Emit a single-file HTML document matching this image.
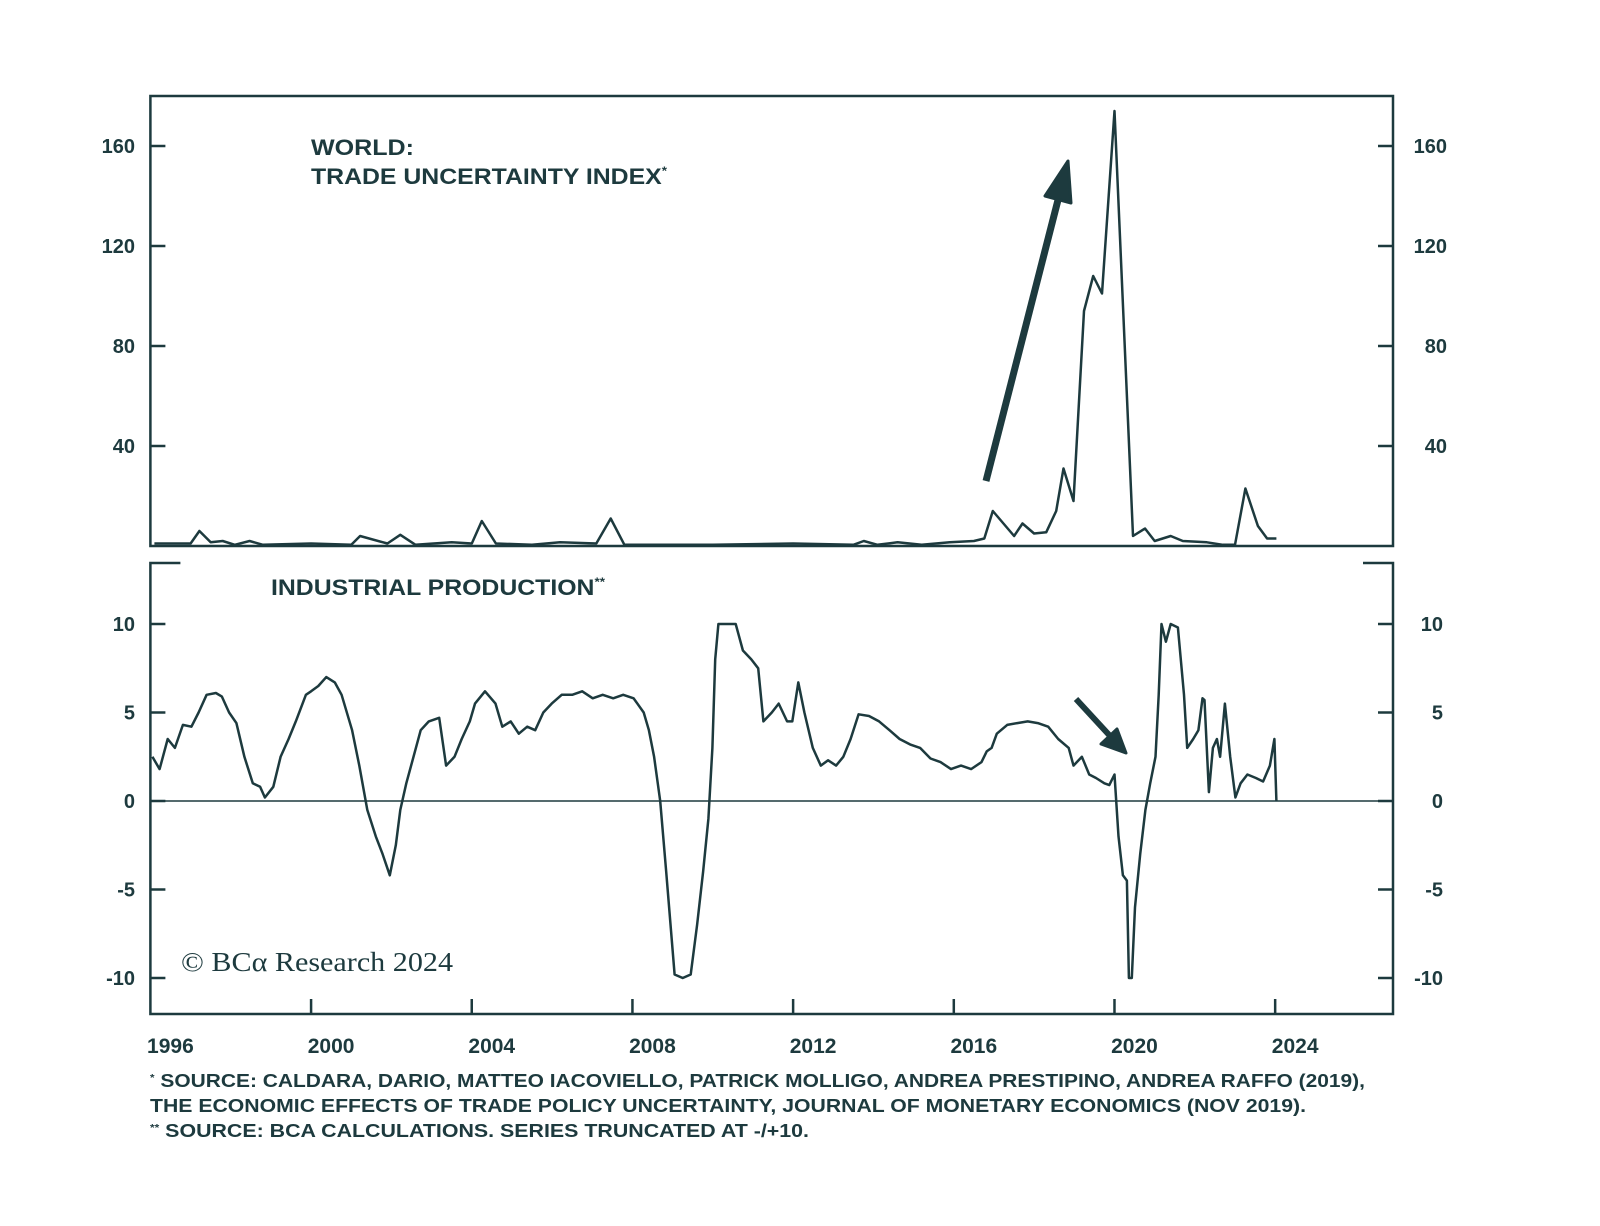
<!DOCTYPE html>
<html><head><meta charset="utf-8">
<style>
html,body{margin:0;padding:0;background:#fff;}
svg{display:block;}
text{font-family:"Liberation Sans",sans-serif;fill:#1d3a3e;font-weight:bold;}
</style></head>
<body>
<svg id="chart" width="1600" height="1226" viewBox="0 0 1600 1226" xmlns="http://www.w3.org/2000/svg">
<rect width="1600" height="1226" fill="#fff"/>
<g id="frame"></g>
<g id="axes"></g>
<g id="series"></g>
<text x="311" y="155" font-size="22" textLength="103" lengthAdjust="spacingAndGlyphs">WORLD:</text>
<text x="311" y="184" font-size="22" textLength="356" lengthAdjust="spacingAndGlyphs">TRADE UNCERTAINTY INDEX<tspan font-size="12" dy="-9">*</tspan></text>
<text x="271" y="595" font-size="22" textLength="334" lengthAdjust="spacingAndGlyphs">INDUSTRIAL PRODUCTION<tspan font-size="12" dy="-9">**</tspan></text>
<text x="181" y="971" font-size="27" style="font-family:'Liberation Serif',serif;font-weight:normal" textLength="272" lengthAdjust="spacingAndGlyphs">© BCα Research 2024</text>
<g>
<line x1="986" y1="481" x2="1058" y2="200" stroke="#1d3a3e" stroke-width="7"/>
<polygon points="1068,161 1045,196 1071,203" fill="#1d3a3e" stroke="#1d3a3e" stroke-width="3" stroke-linejoin="round"/>
</g>
<g>
<line x1="1076" y1="699" x2="1111" y2="737" stroke="#1d3a3e" stroke-width="6"/>
<polygon points="1126,753 1101,744 1117,729" fill="#1d3a3e" stroke="#1d3a3e" stroke-width="3" stroke-linejoin="round"/>
</g>
<text x="150" y="1087" font-size="18" textLength="1215" lengthAdjust="spacingAndGlyphs"><tspan font-size="10" dy="-6">*</tspan><tspan dy="6"> SOURCE: CALDARA, DARIO, MATTEO IACOVIELLO, PATRICK MOLLIGO, ANDREA PRESTIPINO, ANDREA RAFFO (2019),</tspan></text>
<text x="150" y="1112" font-size="18" textLength="1156" lengthAdjust="spacingAndGlyphs">THE ECONOMIC EFFECTS OF TRADE POLICY UNCERTAINTY, JOURNAL OF MONETARY ECONOMICS (NOV 2019).</text>
<text x="150" y="1137" font-size="18" textLength="659" lengthAdjust="spacingAndGlyphs"><tspan font-size="10" dy="-6">**</tspan><tspan dy="6"> SOURCE: BCA CALCULATIONS. SERIES TRUNCATED AT -/+10.</tspan></text>
</svg>
<script>
// ---- data ----
const tuiYears = [1996.1,1997.0,1997.22,1997.5,1997.8,1998.1,1998.47,1998.8,2000,2001,2001.22,2001.9,2002.22,2002.6,2003.5,2004.0,2004.25,2004.6,2005.5,2006.2,2007.1,2007.46,2007.8,2010,2012,2013.5,2013.76,2014.1,2014.6,2015.2,2015.9,2016.5,2016.76,2016.97,2017.5,2017.71,2018.0,2018.3,2018.55,2018.73,2018.98,2019.24,2019.47,2019.69,2020.0,2020.46,2020.76,2021.0,2021.4,2021.7,2022.3,2022.7,2023.0,2023.26,2023.57,2023.8,2024.03];
const tuiValues = [1,1,6,1.5,2,0.5,2,0.5,1,0.5,4,1,4.5,0.5,1.5,1,10,1,0.5,1.5,1,11,0.5,0.5,1,0.5,2,0.5,1.5,0.5,1.5,2,3,14,4,9,5,5.5,14,31,18,94,108,101,174,4,7,2,4,2,1.5,0.5,0.5,23,8,3,3];
const ipYears = [1996.05,1996.23,1996.43,1996.61,1996.81,1997.02,1997.2,1997.4,1997.63,1997.78,1997.96,1998.14,1998.34,1998.55,1998.73,1998.85,1999.06,1999.24,1999.44,1999.62,1999.87,2000.0,2000.18,2000.38,2000.59,2000.76,2001.02,2001.2,2001.4,2001.61,2001.78,2001.96,2002.11,2002.22,2002.37,2002.55,2002.73,2002.93,2003.19,2003.36,2003.57,2003.75,2003.95,2004.08,2004.33,2004.59,2004.76,2004.97,2005.17,2005.38,2005.58,2005.78,2005.99,2006.24,2006.5,2006.75,2007.01,2007.26,2007.52,2007.77,2008.03,2008.28,2008.41,2008.54,2008.69,2008.84,2009.05,2009.25,2009.45,2009.61,2009.76,2009.89,2009.99,2010.06,2010.14,2010.57,2010.75,2010.96,2011.13,2011.26,2011.47,2011.64,2011.85,2011.98,2012.13,2012.28,2012.49,2012.69,2012.87,2013.07,2013.25,2013.43,2013.63,2013.89,2014.14,2014.4,2014.65,2014.91,2015.16,2015.42,2015.67,2015.93,2016.18,2016.43,2016.69,2016.82,2016.94,2017.07,2017.33,2017.58,2017.84,2018.09,2018.35,2018.6,2018.86,2018.98,2019.19,2019.37,2019.54,2019.75,2019.87,2020.0,2020.1,2020.21,2020.31,2020.36,2020.43,2020.51,2020.64,2020.77,2020.89,2021.02,2021.1,2021.17,2021.28,2021.4,2021.58,2021.73,2021.81,2021.96,2022.09,2022.19,2022.24,2022.35,2022.45,2022.55,2022.63,2022.75,2022.88,2023.01,2023.14,2023.31,2023.52,2023.7,2023.87,2023.98,2024.03];
const ipValues = [2.5,1.8,3.5,3,4.3,4.2,5,6,6.1,5.9,5,4.4,2.5,1,0.8,0.2,0.8,2.5,3.5,4.5,6,6.2,6.5,7,6.7,6,4,2,-0.5,-2,-3,-4.2,-2.5,-0.5,1,2.5,4,4.5,4.7,2,2.5,3.5,4.5,5.5,6.2,5.5,4.2,4.5,3.8,4.2,4,5,5.5,6,6,6.2,5.8,6,5.8,6,5.8,5,4,2.5,0,-4,-9.8,-10,-9.8,-7,-4,-1,3,8,10,10,8.5,8,7.5,4.5,5,5.5,4.5,4.5,6.7,5,3,2,2.3,2,2.5,3.5,4.9,4.8,4.5,4,3.5,3.2,3,2.4,2.2,1.8,2,1.8,2.2,2.8,3,3.8,4.3,4.4,4.5,4.4,4.2,3.5,3,2,2.5,1.5,1.3,1,0.9,1.5,-2,-4.2,-4.5,-10,-10,-6,-3,-0.5,1,2.5,6,10,9,10,9.8,6,3,3.5,4,5.8,5.7,0.5,3,3.5,2.5,5.5,2.5,0.2,1,1.5,1.3,1.1,2,3.5,0];
const xTickYears = [1996,2000,2004,2008,2012,2016,2020,2024];
const topTicks = [40,80,120,160];
const topTickLabels = ["40","80","120","160"];
const botTicks = [-10,-5,0,5,10];
const botTickLabels = ["-10","-5","0","5","10"];

// ---- scales ----
const C = "#1d3a3e";
const L = 150.4, R = 1393, T1 = 96, B1 = 546, T2 = 563, B2 = 1014;
const x = yr => L + (yr - 1996) * 40.17;
const yTop = v => B1 - v * 2.5;
const yBot = v => 801 - v * 17.7;
const NS = "http://www.w3.org/2000/svg";
function mk(tag, attrs, parent) {
  const e = document.createElementNS(NS, tag);
  for (const k in attrs) e.setAttribute(k, attrs[k]);
  parent.appendChild(e);
  return e;
}
const frame = document.getElementById('frame');
const axes = document.getElementById('axes');
const series = document.getElementById('series');

// frames
let f1 = mk('path', {d:`M${L},${B1} L${L},${T1} L${R},${T1} L${R},${B1} Z`, fill:'none', stroke:C, 'stroke-width':2.5}, frame);


let f2 = mk('path', {d:`M${L+30},${T2} L${L},${T2} L${L},${B2} L${R},${B2} L${R},${T2} L${R-30},${T2}`, fill:'none', stroke:C, 'stroke-width':2.5}, frame);


let zl = mk('line', {x1:L, x2:R, y1:yBot(0), y2:yBot(0), stroke:C, 'stroke-width':1.5}, frame);



// top y ticks
topTicks.forEach((v, i) => {
  const y = yTop(v);
  const t1 = mk('line', {x1:L, x2:L+15, y1:y, y2:y, stroke:C, 'stroke-width':2.5}, axes);
  
  
  const t2 = mk('line', {x1:R-15, x2:R, y1:y, y2:y, stroke:C, 'stroke-width':2.5}, axes);
  
  
  const a = mk('text', {x:135, y:y+7, 'text-anchor':'end', 'font-size':20}, axes);
  a.textContent = topTickLabels[i];
  
  
  const b = mk('text', {x:1447, y:y+7, 'text-anchor':'end', 'font-size':20}, axes);
  b.textContent = topTickLabels[i];
  
  
});
// bottom y ticks
botTicks.forEach((v, i) => {
  const y = yBot(v);
  const t1 = mk('line', {x1:L, x2:L+15, y1:y, y2:y, stroke:C, 'stroke-width':2.5}, axes);
  
  
  const t2 = mk('line', {x1:R-15, x2:R, y1:y, y2:y, stroke:C, 'stroke-width':2.5}, axes);
  
  
  const a = mk('text', {x:135, y:y+7, 'text-anchor':'end', 'font-size':20}, axes);
  a.textContent = botTickLabels[i];
  
  
  const b = mk('text', {x:1443, y:y+7, 'text-anchor':'end', 'font-size':20}, axes);
  b.textContent = botTickLabels[i];
  
  
});
// x ticks
xTickYears.forEach(yr => {
  const xx = x(yr);
  if (yr > 1996) {
    const t = mk('line', {x1:xx, x2:xx, y1:B2-15, y2:B2, stroke:C, 'stroke-width':2.5}, axes);
    
    
  }
  const lb = mk('text', {x:xx+20, y:1053, 'text-anchor':'middle', 'font-size':21}, axes);
  lb.textContent = String(yr);
  
  
});

// series
const p1 = mk('polyline', {points: tuiYears.map((yr,i)=>`${x(yr).toFixed(1)},${yTop(tuiValues[i]).toFixed(1)}`).join(' '), fill:'none', stroke:C, 'stroke-width':2.5, 'stroke-linejoin':'round'}, series);


const p2 = mk('polyline', {points: ipYears.map((yr,i)=>`${x(yr).toFixed(1)},${yBot(ipValues[i]).toFixed(1)}`).join(' '), fill:'none', stroke:C, 'stroke-width':2.5, 'stroke-linejoin':'round'}, series);


</script>
</body></html>
